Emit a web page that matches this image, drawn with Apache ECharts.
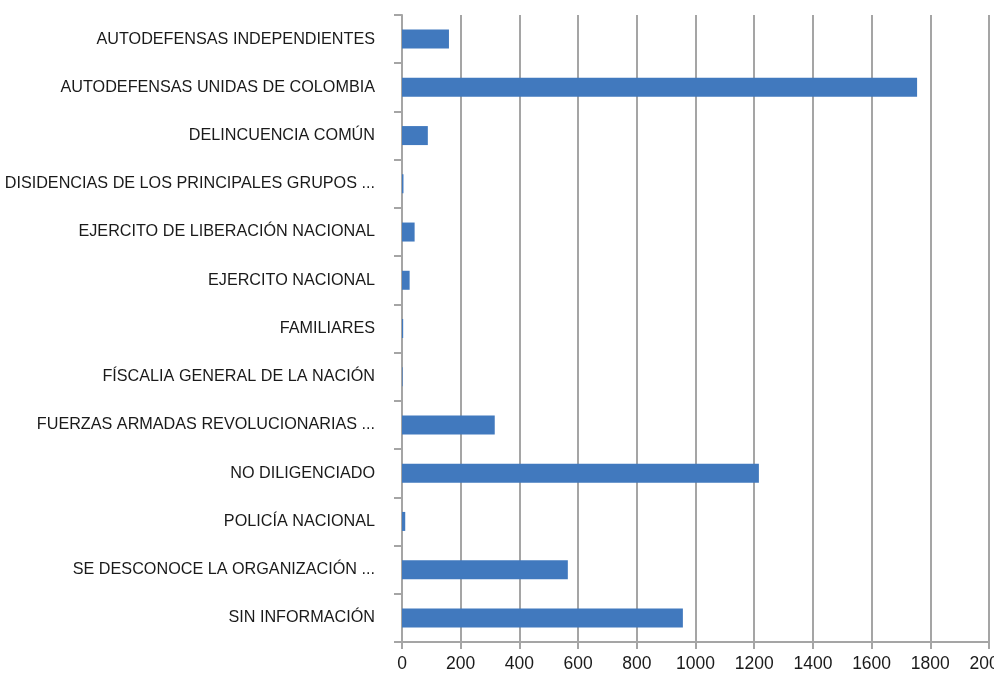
<!DOCTYPE html>
<html>
<head>
<meta charset="utf-8">
<script src="https://cdn.jsdelivr.net/npm/echarts@6/dist/echarts.min.js"></script>
<style>
html,body{margin:0;padding:0;background:#fff;}
#chart{width:994px;height:681px;}
</style>
</head>
<body>
<div id="chart"></div>
<script>
const categories = [
  "AUTODEFENSAS INDEPENDIENTES",
  "AUTODEFENSAS UNIDAS DE COLOMBIA",
  "DELINCUENCIA COMÚN",
  "DISIDENCIAS DE LOS PRINCIPALES GRUPOS ...",
  "EJERCITO DE LIBERACIÓN NACIONAL",
  "EJERCITO NACIONAL",
  "FAMILIARES",
  "FÍSCALIA GENERAL DE LA NACIÓN",
  "FUERZAS ARMADAS REVOLUCIONARIAS ...",
  "NO DILIGENCIADO",
  "POLICÍA NACIONAL",
  "SE DESCONOCE LA ORGANIZACIÓN ...",
  "SIN INFORMACIÓN"
];
const values = [160, 1755, 88, 5, 43, 26, 4, 2, 316, 1216, 11, 565, 957];
const xTicks = { min: 0, max: 2000, interval: 200 };

const chart = echarts.init(document.getElementById('chart'));
chart.setOption({
  animation: false,
  backgroundColor: '#ffffff',
  grid: { left: 402, right: 5, top: 15, bottom: 39, containLabel: false, outerBoundsMode: 'none' },
  xAxis: {
    type: 'value',
    min: xTicks.min, max: xTicks.max, interval: xTicks.interval,
    axisLine: { show: true, lineStyle: { color: '#a5a5a5', width: 2 } },
    axisTick: { show: true, length: 7, lineStyle: { color: '#a5a5a5', width: 2 } },
    splitLine: { show: true, lineStyle: { color: '#a5a5a5', width: 2 } },
    axisLabel: { color: '#1a1a1a', fontFamily: 'Liberation Sans', fontSize: 17.5, margin: 13,
      formatter: function (v) { return String(v); } }
  },
  yAxis: {
    type: 'category',
    inverse: true,
    data: categories,
    axisLine: { show: true, lineStyle: { color: '#a5a5a5', width: 2 } },
    axisTick: { show: true, length: 8, lineStyle: { color: '#a5a5a5', width: 2 } },
    axisLabel: { color: '#1a1a1a', fontFamily: 'Liberation Sans', fontSize: 16.2, margin: 27 }
  },
  series: [{
    type: 'bar',
    data: values,
    barWidth: 19,
    itemStyle: { color: '#4179be' }
  }]
});
</script>
</body>
</html>
